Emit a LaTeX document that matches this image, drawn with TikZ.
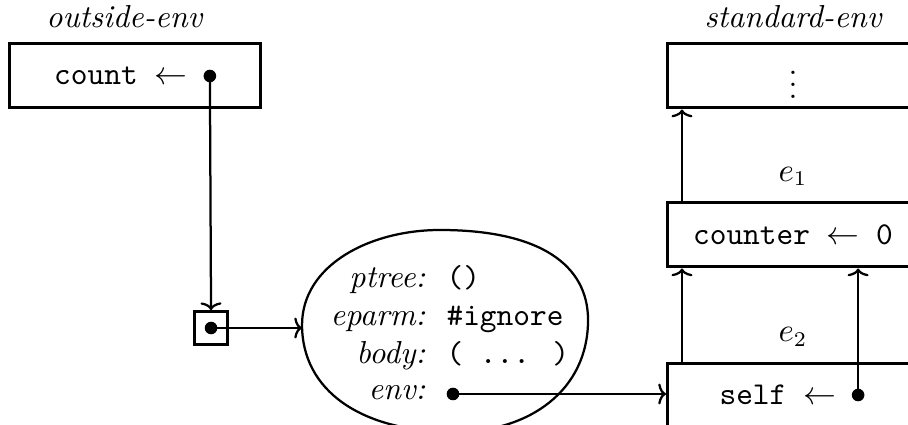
\documentclass[tikz,border=0pt]{standalone}
\usetikzlibrary{arrows.meta,positioning}
\tikzset{
  frame/.style={draw,line width=1pt,minimum width=2.94cm,minimum height=0.75cm,inner sep=0pt},
  cellbox/.style={draw,line width=0.8pt,minimum size=0.39cm,inner sep=0pt},
  ptr/.style={-{To[length=2.6pt,width=7pt]},line width=0.75pt},
  dot/.style={circle,fill,inner sep=0pt,minimum size=4.2pt},
  envname/.style={font=\itshape},
  field/.style={font=\itshape,anchor=base east,inner sep=0pt},
  fval/.style={font=\ttfamily,anchor=base west,inner sep=0pt},
  blob/.style={line width=0.75pt},
}

\begin{document}
\fontsize{10.6pt}{12.7pt}\selectfont
\begin{tikzpicture}
\path[use as bounding box] (0,0) rectangle (10.636,4.978);
\clip (0,0) rectangle (10.636,4.978);

% the outside environment, one binding
\node[frame] (outside) at (1.576,4.088) {};
\node[envname,above=0.4mm of outside,xshift=-0.12cm] (outlab) {outside-env};
\node[anchor=west,inner sep=0pt] (countvar) at ([xshift=0.54cm]outside.west) {\texttt{count\ }$\leftarrow$};
\node[dot] (countptr) at ([xshift=2.37cm]outside.west) {};

% the chain of frames down from the standard environment
\node[frame] (stdenv) at (9.289,4.088) {$\vdots$};
\node[envname,above=0.4mm of stdenv] (stdlab) {standard-env};
\node[frame] (counter) at (9.289,2.226) {\texttt{counter $\leftarrow$ 0}};
\node[above=0.5mm of counter] (e1) {$e_1$};
\node[frame] (self) at (9.289,0.351) {};
\node[above=0.5mm of self] (e2) {$e_2$};
\node[anchor=west,inner sep=0pt] (selfvar) at ([xshift=0.62cm]self.west) {\texttt{self\ }$\leftarrow$};
\node[dot] (selfptr) at ([xshift=2.25cm]self.west) {};

% the cell holding the closure
\node[cellbox] (cell) at (2.472,1.136) {};
\node[dot] (cellptr) at (cell.center) {};

% the closure record
\draw[blob] (3.538,1.171) .. controls (3.538,1.874) and (4.334,2.284) .. (5.154,2.284)
  .. controls (6.326,2.284) and (6.888,1.874) .. (6.888,1.230)
  .. controls (6.888,0.410) and (6.208,-0.082) .. (5.330,-0.082)
  .. controls (4.217,-0.082) and (3.538,0.410) .. cycle;
\coordinate (blobleft) at (3.538,1.136);
\node[field] (ptree) at (4.99,1.605) {ptree:};
\node[fval] (ptreeval) at (5.224,1.605) {()};
\node[field] (eparm) at (4.99,1.160) {eparm:};
\node[fval] (eparmval) at (5.224,1.160) {\#ignore};
\node[field] (body) at (4.99,0.726) {body:};
\node[fval] (bodyval) at (5.224,0.726) {( ... )};
\node[field] (env) at (4.99,0.293) {env:};
\node[dot] (envptr) at (5.306,0.363) {};

\draw[ptr] (countptr.center) -- (cell.north);
\draw[ptr] (cellptr.center) -- (blobleft);
\draw[ptr] (envptr.center) -- (envptr -| self.west);
\draw[ptr] ([xshift=1.87mm]self.north west) -- ([xshift=1.87mm]counter.south west);
\draw[ptr] ([xshift=1.87mm]counter.north west) -- ([xshift=1.87mm]stdenv.south west);
\draw[ptr] (selfptr.center) -- (selfptr |- counter.south);
\end{tikzpicture}
\end{document}
